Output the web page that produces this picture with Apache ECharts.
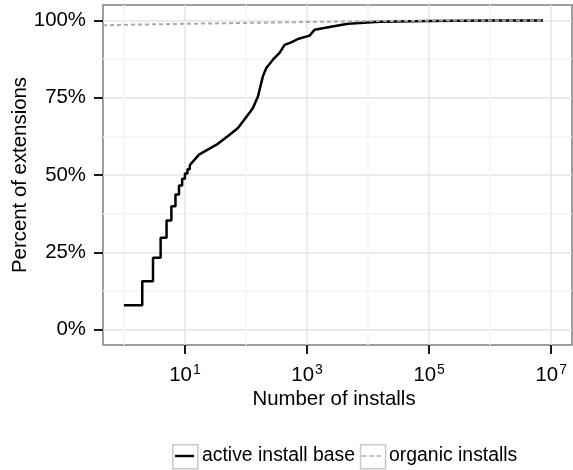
<!DOCTYPE html>
<html><head><meta charset="utf-8">
<script src="https://cdn.jsdelivr.net/npm/echarts@6/dist/echarts.min.js"></script>
<style>html,body{margin:0;padding:0;background:#fff}#c{width:573px;height:470px}</style>
</head><body><div id="c"></div><script>
// ---- data (installs on a log10 axis, percent of extensions) ----
const activeStepInstalls = [1, 2, 3, 4, 5, 6, 7, 8, 9, 10, 11, 12];
const activeStepPct = [7.9, 15.6, 23.2, 29.7, 35.3, 39.9, 43.7, 46.6, 48.8, 50.5, 51.9, 53.2];
const activeCurveInstalls = [12, 17, 24, 33, 54, 74, 115, 130, 157, 189, 215, 276, 355, 429, 552, 708, 1100, 1330, 2340, 4680, 15400, 100000, 1000000, 7300000];
const activeCurvePct = [53.2, 56.6, 58.3, 59.8, 63.0, 65.2, 70.2, 71.7, 75.4, 81.9, 84.6, 87.3, 89.5, 92.1, 92.9, 94.0, 95.1, 97.0, 97.9, 98.9, 99.6, 99.8, 99.95, 100];
const organicInstalls = [0, 1, 10, 100, 1000, 10000, 100000, 1000000, 7300000];
const organicPct = [98.4, 98.6, 98.9, 99.2, 99.5, 99.8, 99.95, 100, 100];

const xMajorExp = [1, 3, 5, 7];
const xMinorExp = [0, 2, 4, 6];
const yMajorTicks = [0, 25, 50, 75, 100];
const yMinorTicks = [12.5, 37.5, 62.5, 87.5];
const seriesNames = ['active install base', 'organic installs'];

const X_MIN = -0.342, X_MAX = 7.34;
const FONT = 'Liberation Sans, Arial, Helvetica, sans-serif';

function toPts(xs, ys) {
  return xs.map((v, i) => [Math.max(Math.log10(v), X_MIN), ys[i]]);
}

// legend key glyphs (corner moveTo's keep the glyph unstretched inside the 25x24 key)
const KEY_SOLID = 'path://M0,0M25,24M3,10.8H22V13.2H3Z';
const KEY_DASH = 'path://M0,0M25,24M3,11.2H7.5V12.8H3ZM10.3,11.2H14.8V12.8H10.3ZM17.6,11.2H22V12.8H17.6Z';

const chart = echarts.init(document.getElementById('c'), null, {renderer: 'canvas'});
const hidden = {show: false};
const legendBase = {
  orient: 'horizontal', left: 172, top: 444, itemGap: 4, padding: 0,
  itemWidth: 25, itemHeight: 24, selectedMode: false
};
chart.setOption({
  animation: false,
  backgroundColor: '#fff',
  grid: {left: 103, top: 5, width: 469, height: 340, show: true,
         backgroundColor: '#fff', borderColor: '#7f7f7f', borderWidth: 1.5,
         containLabel: false, outerBoundsMode: 'none'},
  legend: [
    Object.assign({}, legendBase, {icon: 'rect', data: seriesNames,
      itemStyle: {color: '#fff', borderColor: '#c8c8c8', borderWidth: 1.5},
      textStyle: {fontFamily: FONT, fontSize: 19.4, color: 'rgba(0,0,0,0)'}}),
    Object.assign({}, legendBase, {
      data: [{name: seriesNames[0], icon: KEY_SOLID}, {name: seriesNames[1], icon: KEY_DASH}],
      textStyle: {fontFamily: FONT, fontSize: 19.4, color: '#000'}})
  ],
  xAxis: [
    {type: 'value', min: X_MIN, max: X_MAX, gridIndex: 0, position: 'bottom',
     name: 'Number of installs', nameLocation: 'middle', nameGap: 44, nameMoveOverlap: false,
     nameTextStyle: {fontFamily: FONT, fontSize: 20.4, color: '#000', padding: [0, 7, 0, 0]},
     axisLine: {show: false, onZero: false},
     axisTick: {show: true, length: 9, lineStyle: {color: '#1a1a1a', width: 2}, customValues: xMajorExp},
     axisLabel: {show: true, margin: 18, customValues: xMajorExp,
       formatter: v => '{b|10}{s|' + v + '}',
       rich: {b: {fontFamily: FONT, fontSize: 20.4, color: '#000', lineHeight: 24},
              s: {fontFamily: FONT, fontSize: 14, color: '#000', lineHeight: 14, verticalAlign: 'top', padding: [0, 0, 0, 1]}}},
     splitLine: {show: true, lineStyle: {color: '#e5e5e5', width: 1.5}}},
    {type: 'value', min: X_MIN, max: X_MAX, gridIndex: 0, position: 'top',
     axisLine: {show: false, onZero: false},
     axisTick: {show: false, customValues: xMinorExp},
     axisLabel: hidden,
     splitLine: {show: true, lineStyle: {color: '#f5f5f5', width: 1.5}}}
  ],
  yAxis: [
    {type: 'value', min: -5, max: 105, gridIndex: 0, position: 'left',
     name: 'Percent of extensions', nameLocation: 'middle', nameGap: 73, nameMoveOverlap: false,
     nameTextStyle: {fontFamily: FONT, fontSize: 20.4, color: '#000'},
     axisLine: {show: false, onZero: false},
     axisTick: {show: true, length: 9, lineStyle: {color: '#1a1a1a', width: 2}, customValues: yMajorTicks},
     axisLabel: {show: true, margin: 17, customValues: yMajorTicks, formatter: v => v + '%',
       fontFamily: FONT, fontSize: 20.4, color: '#000'},
     splitLine: {show: true, lineStyle: {color: '#e5e5e5', width: 1.5}}},
    {type: 'value', min: -5, max: 105, gridIndex: 0, position: 'right',
     axisLine: {show: false, onZero: false},
     axisTick: {show: false, customValues: yMinorTicks},
     axisLabel: hidden,
     splitLine: {show: true, lineStyle: {color: '#f5f5f5', width: 1.5}}}
  ],
  series: [
    {name: seriesNames[0], type: 'line', xAxisIndex: 0, yAxisIndex: 0, step: 'end',
     symbol: 'none', data: toPts(activeStepInstalls, activeStepPct),
     lineStyle: {color: '#000', width: 2.5}, itemStyle: {color: '#000'}, z: 3},
    {name: seriesNames[0], type: 'line', xAxisIndex: 0, yAxisIndex: 0,
     symbol: 'none', data: toPts(activeCurveInstalls, activeCurvePct),
     lineStyle: {color: '#000', width: 2.5}, itemStyle: {color: '#000'}, z: 3},
    {name: seriesNames[1], type: 'line', xAxisIndex: 0, yAxisIndex: 0,
     symbol: 'none', data: toPts(organicInstalls, organicPct),
     lineStyle: {color: '#aaaaaa', width: 2, type: [4, 3]}, itemStyle: {color: '#aaaaaa'}, z: 4}
  ]
});
</script></body></html>
